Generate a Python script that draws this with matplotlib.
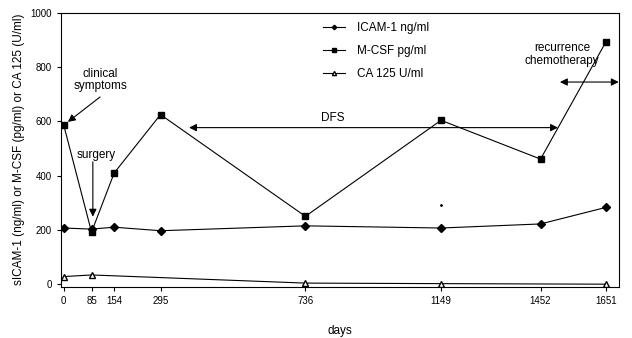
import numpy as np
import matplotlib.pyplot as plt

plt.rcParams['font.family'] = ['Liberation Sans', 'DejaVu Sans']

# days after first visit
days = [0, 85, 154, 295, 736, 1149, 1452, 1651]
icam = [207, 203, 210, 197, 215, 207, 222, 283]
mcsf = [588, 192, 410, 625, 250, 604, 461, 893]
ca125_days = [0, 85, 736, 1149, 1651]
ca125 = [28, 34, 4, 2, 0]

fig = plt.figure(figsize=(6.32, 3.38), dpi=100)
ax = fig.add_axes([0.0965, 0.152, 0.8825, 0.81])

ax.plot(days, icam, color='black', lw=0.8, marker='D', ms=3.8, label='ICAM-1 ng/ml')
ax.plot(days, mcsf, color='black', lw=0.8, marker='s', ms=5, label='M-CSF pg/ml')
ax.plot(ca125_days, ca125, color='black', lw=0.8, marker='^', ms=5,
        markerfacecolor='white', label='CA 125 U/ml')
# small speck visible in the original scan
ax.plot([1149], [292], 'k.', ms=2)

ax.set_xlim(-8, 1690)
ax.set_ylim(-9, 1000)
ax.set_xticks(days)
ax.set_xticklabels([str(d) for d in days])
ax.set_yticks(np.arange(0, 1001, 200))
ax.tick_params(labelsize=7, direction='out', length=3, width=0.8)
for s in ax.spines.values():
    s.set_linewidth(0.8)

ax.set_xlabel('days', fontsize=8.5, labelpad=14)
ax.set_ylabel('sICAM-1 (ng/ml) or M-CSF (pg/ml) or CA 125 (U/ml)', fontsize=8.5, labelpad=4)

ax.legend(frameon=False, loc='upper left', fontsize=8.5, handlelength=1.9,
          handletextpad=1.0, labelspacing=0.95, borderpad=0, borderaxespad=0,
          bbox_to_anchor=(323 / 632, 1 - 22 / 338), bbox_transform=fig.transFigure,
          markerscale=0.6)

head = dict(arrowstyle='-|>', color='black', lw=0.8, mutation_scale=11, shrinkA=0, shrinkB=0)
both = dict(arrowstyle='<|-|>', color='black', lw=0.8, mutation_scale=11, shrinkA=0, shrinkB=0)

ax.text(111, 752, 'clinical\nsymptoms', ha='center', va='center', fontsize=8.5, linespacing=1.05)
ax.annotate('', xy=(13, 598), xytext=(111, 690), arrowprops=head)

ax.text(100, 476, 'surgery', ha='center', va='center', fontsize=8.5)
ax.annotate('', xy=(89, 249), xytext=(89, 451), arrowprops=head)

ax.text(820, 614, 'DFS', ha='center', va='center', fontsize=8.5)
ax.annotate('', xy=(382, 577), xytext=(1505, 577), arrowprops=both)

ax.text(1517, 847, 'recurrence\nchemotherapy', ha='center', va='center', fontsize=8.5, linespacing=1.05)
ax.annotate('', xy=(1511, 745), xytext=(1690, 745), arrowprops=both)

fig.savefig('out.png', dpi=100)
